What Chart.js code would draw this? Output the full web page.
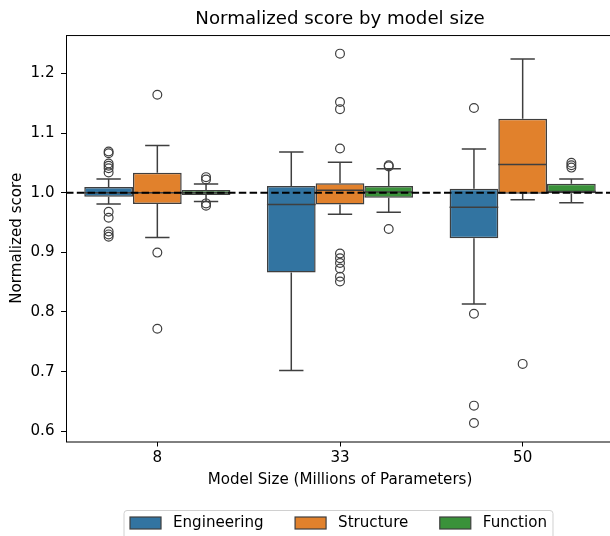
<!DOCTYPE html>
<html>
<head>
<meta charset="utf-8">
<script src="https://cdn.jsdelivr.net/npm/chart.js@4"></script>
<style>
  html, body { margin: 0; padding: 0; background: #fff; overflow: hidden; }
  #wrap { width: 615px; height: 536px; }
</style>
</head>
<body>
<div id="wrap"><canvas id="chart" width="615" height="536"></canvas></div>
<script>
// categories and series
const categories = ['8', '33', '50'];
const seriesNames = ['Engineering', 'Structure', 'Function'];
const yTicks = [0.6, 0.7, 0.8, 0.9, 1.0, 1.1, 1.2];

// per category: [lower whisker, Q1, median, Q3, upper whisker]
const engineeringStats = [
    [0.981, 0.9933, 1.000, 1.0095, 1.0229],
    [0.702, 0.866, 0.980, 1.0112, 1.068],
    [0.8135, 0.9235, 0.9754, 1.0067, 1.073]
];
const structureStats = [
    [0.925, 0.981, 1.000, 1.0335, 1.079],
    [0.9637, 0.980, 1.004, 1.0156, 1.051],
    [0.988, 0.998, 1.047, 1.124, 1.224]
];
const functionStats = [
    [0.985, 0.996, 1.000, 1.0045, 1.0145],
    [0.967, 0.9916, 1.001, 1.011, 1.040],
    [0.983, 0.999, 1.002, 1.015, 1.023]
];

// outliers per category
const engineeringOutliers = [
    [1.069, 1.066, 1.049, 1.045, 1.041, 1.034, 0.968, 0.958, 0.935, 0.930, 0.926],
    [],
    [1.142, 0.797, 0.643, 0.614]
];
const structureOutliers = [
    [1.164, 0.8995, 0.772],
    [1.233, 1.152, 1.140, 1.074, 0.898, 0.890, 0.882, 0.873, 0.859, 0.851],
    [0.713]
];
const functionOutliers = [
    [1.026, 1.022, 0.982, 0.978],
    [1.046, 1.044, 0.939],
    [1.050, 1.046, 1.042]
];

const referenceValue = 1.0;

const seriesColors = ['#3274a1', '#e1812c', '#3a923a'];
const lineColor = '#3f3f3f';
const FONT = '"DejaVu Sans", sans-serif';
const LABEL_SIZE = 15.1;

const allStats = [engineeringStats, structureStats, functionStats];
const allOutliers = [engineeringOutliers, structureOutliers, functionOutliers];

// box details: whiskers, caps, medians, outliers, reference line
const boxPlugin = {
    id: 'boxDetails',
    afterDatasetsDraw(chart) {
        const ctx = chart.ctx;
        const yScale = chart.scales.y;
        const area = chart.chartArea;
        ctx.save();
        ctx.beginPath();
        ctx.rect(area.left, area.top, area.right - area.left, area.bottom - area.top);
        ctx.clip();
        chart.data.datasets.forEach((ds, i) => {
            const meta = chart.getDatasetMeta(i);
            meta.data.forEach((bar, j) => {
                const s = ds.stats[j];
                const x = bar.x;
                const half = bar.width / 2;
                const py = v => yScale.getPixelForValue(v);
                ctx.strokeStyle = lineColor;
                ctx.lineWidth = 1.5;
                ctx.beginPath();
                // whiskers
                ctx.moveTo(x, py(s[3])); ctx.lineTo(x, py(s[4]));
                ctx.moveTo(x, py(s[1])); ctx.lineTo(x, py(s[0]));
                // caps
                ctx.moveTo(x - half / 2, py(s[4])); ctx.lineTo(x + half / 2, py(s[4]));
                ctx.moveTo(x - half / 2, py(s[0])); ctx.lineTo(x + half / 2, py(s[0]));
                // median
                ctx.moveTo(x - half, py(s[2])); ctx.lineTo(x + half, py(s[2]));
                ctx.stroke();
                // outliers
                ctx.lineWidth = 1.2;
                ds.outliers[j].forEach(v => {
                    ctx.beginPath();
                    ctx.arc(x, py(v), 4.4, 0, Math.PI * 2);
                    ctx.stroke();
                });
            });
        });
        // dashed reference line
        const ry = yScale.getPixelForValue(referenceValue);
        ctx.strokeStyle = '#000';
        ctx.lineWidth = 2;
        ctx.setLineDash([7.5, 3.3]);
        ctx.beginPath();
        ctx.moveTo(area.left, ry);
        ctx.lineTo(area.right, ry);
        ctx.stroke();
        ctx.restore();
    },
    afterDraw(chart) {
        const ctx = chart.ctx;
        const area = chart.chartArea;
        ctx.save();
        // frame (spines)
        ctx.strokeStyle = '#000';
        ctx.lineWidth = 1;
        ctx.strokeRect(area.left + 0.5, area.top + 0.5, area.right - area.left - 1, area.bottom - area.top);

        // legend below the axes
        ctx.font = LABEL_SIZE + 'px ' + FONT;
        const patchW = 31, patchH = 12, textGap = 12, itemGap = 31.5, pad = 6;
        const widths = seriesNames.map(n => ctx.measureText(n).width);
        let total = pad * 2;
        widths.forEach((w, i) => { total += patchW + textGap + w + (i < widths.length - 1 ? itemGap : 0); });
        const cx = (area.left + area.right) / 2 - 1.5;
        const left = cx - total / 2;
        const top = 510.5;
        const cy = 523;
        ctx.fillStyle = '#fff';
        ctx.strokeStyle = '#d0d0d0';
        ctx.lineWidth = 1;
        ctx.beginPath();
        ctx.roundRect(left, top, total, 40, 3);
        ctx.fill();
        ctx.stroke();
        let x = left + pad;
        seriesNames.forEach((n, i) => {
            ctx.fillStyle = seriesColors[i];
            ctx.fillRect(x, cy - patchH / 2, patchW, patchH);
            ctx.strokeStyle = lineColor;
            ctx.lineWidth = 1.2;
            ctx.strokeRect(x, cy - patchH / 2, patchW, patchH);
            x += patchW + textGap;
            ctx.fillStyle = '#000';
            ctx.textBaseline = 'middle';
            ctx.textAlign = 'left';
            ctx.fillText(n, x, cy);
            x += widths[i] + itemGap;
        });
        ctx.restore();
    }
};

const datasets = seriesNames.map((name, i) => ({
    label: name,
    data: allStats[i].map(s => [s[1], s[3]]),
    stats: allStats[i],
    outliers: allOutliers[i],
    backgroundColor: seriesColors[i],
    borderColor: lineColor,
    borderWidth: 1.5,
    borderSkipped: false,
    barPercentage: 1.0,
    categoryPercentage: 0.8
}));

new Chart(document.getElementById('chart'), {
    type: 'bar',
    data: { labels: categories, datasets: datasets },
    plugins: [boxPlugin],
    options: {
        responsive: false,
        devicePixelRatio: 1,
        animation: false,
        layout: { padding: { left: 0, right: 1, top: 0, bottom: 0 } },
        plugins: {
            legend: { display: false },
            tooltip: { enabled: false },
            title: {
                display: true,
                fullSize: false,
                text: 'Normalized score by model size',
                color: '#000',
                font: { family: FONT, size: 18.2, weight: 'normal' },
                padding: { top: 8, bottom: 5.2 }
            }
        },
        scales: {
            x: {
                type: 'category',
                offset: true,
                grid: { display: true, drawOnChartArea: false, drawTicks: true, tickLength: 5, color: '#000', offset: false },
                border: { display: false },
                ticks: { color: '#000', font: { family: FONT, size: LABEL_SIZE }, padding: 3 },
                title: {
                    display: true,
                    text: 'Model Size (Millions of Parameters)',
                    color: '#000',
                    font: { family: FONT, size: LABEL_SIZE },
                    padding: { top: 4, bottom: 47 }
                },
                afterFit(scale) { scale.height = 94.5; }
            },
            y: {
                min: 0.5829,
                max: 1.2642,
                grid: { display: true, drawOnChartArea: false, drawTicks: true, tickLength: 5, color: '#000' },
                border: { display: false },
                afterBuildTicks(scale) { scale.ticks = yTicks.map(v => ({ value: v })); },
                ticks: {
                    color: '#000',
                    font: { family: FONT, size: LABEL_SIZE },
                    padding: 6.5,
                    callback: v => v.toFixed(1)
                },
                title: {
                    display: true,
                    text: 'Normalized score',
                    color: '#000',
                    font: { family: FONT, size: LABEL_SIZE },
                    padding: { top: 8, bottom: 0 }
                },
                afterFit(scale) { scale.width = 66; }
            }
        }
    }
});
</script>
</body>
</html>
